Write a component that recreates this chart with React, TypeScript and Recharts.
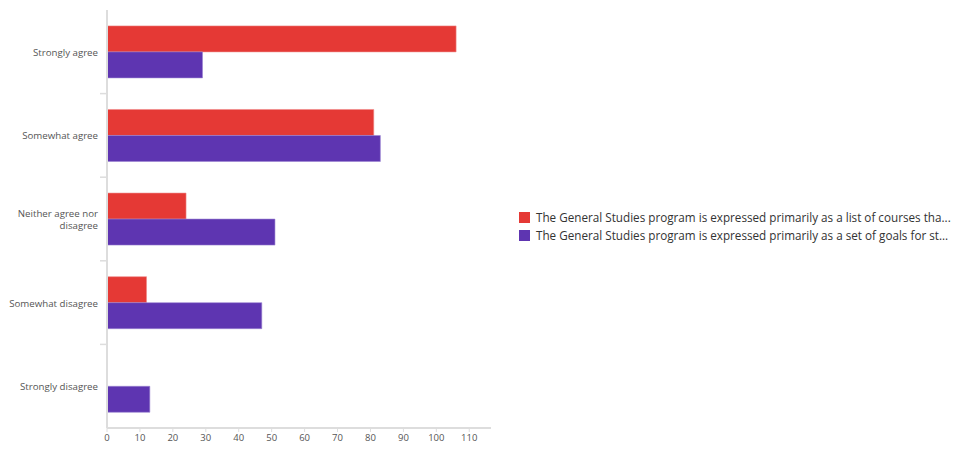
import React from 'react';
import { BarChart, Bar, XAxis, YAxis, Legend } from 'recharts';

const categories = ['Strongly agree', 'Somewhat agree', 'Neither agree nor disagree', 'Somewhat disagree', 'Strongly disagree'];
const listOfCourses = [106, 81, 24, 12, 0];
const setOfGoals = [29, 83, 51, 47, 13];
const xTicks = [0, 10, 20, 30, 40, 50, 60, 70, 80, 90, 100, 110];
const seriesNames = [
  'The General Studies program is expressed primarily as a list of courses tha...',
  'The General Studies program is expressed primarily as a set of goals for st...',
];

const data = categories.map((c, i) => ({ category: c, a: listOfCourses[i], b: setOfGoals[i] }));

const FONT = '"Open Sans", "Noto Sans", sans-serif';

const YTick = (props: any) => {
  const { x, y, payload, index } = props;
  const label: string = payload.value;
  const lines = label === 'Neither agree nor disagree' ? ['Neither agree nor', 'disagree'] : [label];
  const off = payload.offset || 0;
  const lh = 12;
  const startY = y - ((lines.length - 1) * lh) / 2;
  return (
    <g>
      {index > 0 && <line x1={x + 1} x2={x + 8} y1={y - off} y2={y - off} stroke="#dddddd" strokeWidth={1.5} />}
      <text x={x - 1} y={startY} textAnchor="end" fontSize={9.7} fill="#555" fontFamily={FONT} dominantBaseline="central">
        {lines.map((l, i) => (
          <tspan key={i} x={x - 1} dy={i === 0 ? 0 : lh}>{l}</tspan>
        ))}
      </text>
    </g>
  );
};

const LegendContent = (props: any) => {
  const { payload } = props;
  return (
    <div style={{ fontFamily: FONT, fontSize: 11.7, color: '#333' }}>
      {(payload || []).map((p: any, i: number) => (
        <div key={i} style={{ display: 'flex', alignItems: 'center', height: 18, whiteSpace: 'nowrap' }}>
          <span style={{ display: 'inline-block', width: 11, height: 11, background: p.color, marginRight: 6 }} />
          <span>{p.value}</span>
        </div>
      ))}
    </div>
  );
};

export default function App() {
  return (
    <div style={{ position: 'absolute', left: 0, top: 0, width: 955, height: 451, background: '#fff' }}>
      <BarChart
        width={955}
        height={451}
        data={data}
        layout="vertical"
        margin={{ top: 10, right: 464, bottom: 3, left: 0 }}
        barCategoryGap="19%"
        barGap={0}
      >
        <XAxis
          type="number"
          domain={[0, 116.6]}
          ticks={xTicks}
          allowDataOverflow
          height={20}
          axisLine={{ stroke: '#dddddd', strokeWidth: 2 }}
          tickLine={{ stroke: '#dddddd' }}
          tickSize={4}
          tick={{ fontSize: 9.5, fill: '#555', fontFamily: FONT }}
        />
        <YAxis
          type="category"
          dataKey="category"
          width={107}
          axisLine={{ stroke: '#dddddd', strokeWidth: 2 }}
          tickLine={false}
          tick={<YTick />}
          interval={0}
        />
        <Legend
          layout="vertical"
          align="center"
          verticalAlign="middle"
          wrapperStyle={{ left: 519, top: 208, width: 436 }}
          content={<LegendContent />}
        />
        <Bar dataKey="a" name={seriesNames[0]} fill="#e53935" stroke="#ef8a88" strokeWidth={0.6} isAnimationActive={false} />
        <Bar dataKey="b" name={seriesNames[1]} fill="#5e35b1" stroke="#9a83d2" strokeWidth={0.6} isAnimationActive={false} />
      </BarChart>
    </div>
  );
}
